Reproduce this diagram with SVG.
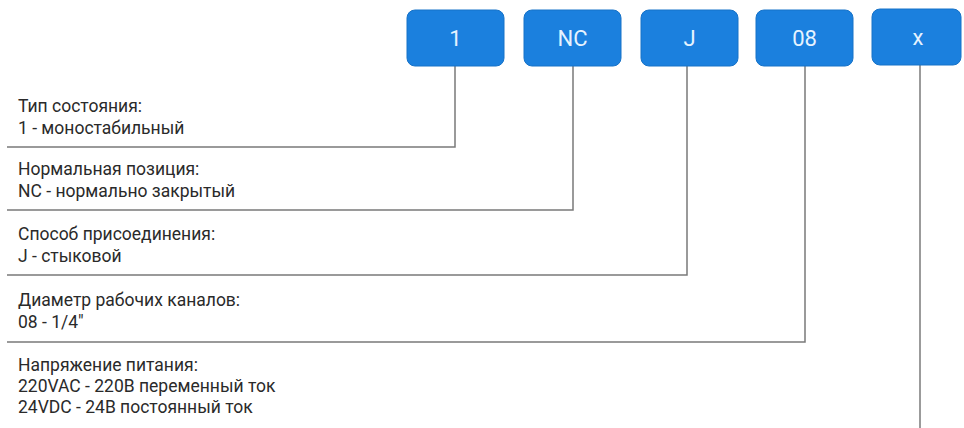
<svg xmlns="http://www.w3.org/2000/svg" width="964" height="428" viewBox="0 0 964 428">
<style>
.box{fill:#1b80de;stroke:#1672c8;stroke-width:1}
.bt{font-family:Roboto,"Liberation Sans",sans-serif;font-size:22px;fill:#e6f3ff;text-anchor:middle}
.lt{font-family:Roboto,"Liberation Sans",sans-serif;font-size:17.5px;fill:#2a2a2a}
.conn{fill:none;stroke:#7a7a7a;stroke-width:1.5}
</style>
<rect width="964" height="428" fill="#ffffff"/>
<g id="connectors">
<polyline class="conn" points="455,66 455,147 7,147"/>
<polyline class="conn" points="573,66 573,210 7,210"/>
<polyline class="conn" points="687,66 687,275 7,275"/>
<polyline class="conn" points="805,66 805,342 7,342"/>
<polyline class="conn" points="920,65 920,428"/>
</g>
<g id="node-1"><rect class="box" x="407" y="10" width="97" height="56" rx="8"/><text class="bt" x="455.5" y="46">1</text></g>
<g id="node-nc"><rect class="box" x="524" y="10" width="97" height="56" rx="8"/><text class="bt" x="572.5" y="46">NC</text></g>
<g id="node-j"><rect class="box" x="641" y="10" width="97" height="56" rx="8"/><text class="bt" x="689.5" y="46">J</text></g>
<g id="node-08"><rect class="box" x="756" y="10" width="97" height="56" rx="8"/><text class="bt" x="804.5" y="46">08</text></g>
<g id="node-x"><rect class="box" x="872" y="9" width="89" height="56" rx="8"/><text class="bt" x="918" y="45">x</text></g>
<g id="label-1"><text class="lt" x="18" y="112">Тип состояния:</text><text class="lt" x="18" y="134">1 - моностабильный</text></g>
<g id="label-nc"><text class="lt" x="18" y="175">Нормальная позиция:</text><text class="lt" x="18" y="197">NC - нормально закрытый</text></g>
<g id="label-j"><text class="lt" x="18" y="240">Способ присоединения:</text><text class="lt" x="18" y="262">J - стыковой</text></g>
<g id="label-08"><text class="lt" x="18" y="306">Диаметр рабочих каналов:</text><text class="lt" x="18" y="328">08 - 1/4"</text></g>
<g id="label-x"><text class="lt" x="18" y="371">Напряжение питания:</text><text class="lt" x="18" y="392">220VAC - 220В переменный ток</text><text class="lt" x="18" y="413">24VDC - 24В постоянный ток</text></g>
</svg>
